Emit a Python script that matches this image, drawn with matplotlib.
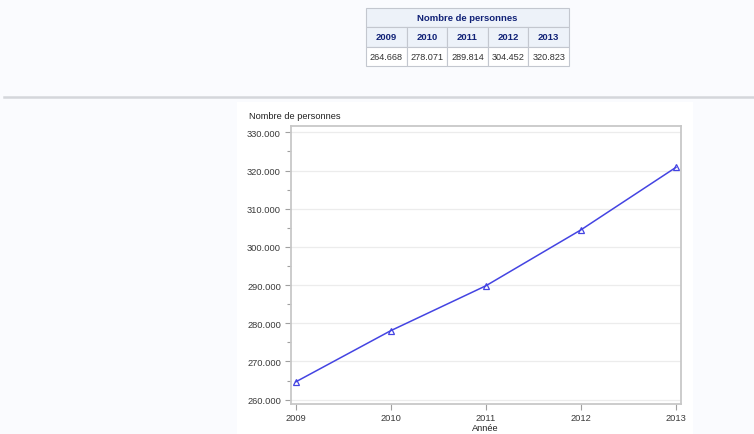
import matplotlib
matplotlib.use("Agg")
import matplotlib.pyplot as plt
from matplotlib.patches import Rectangle
from matplotlib.lines import Line2D
from matplotlib.ticker import FuncFormatter, MultipleLocator

plt.rcParams['font.family'] = ['Liberation Sans', 'DejaVu Sans']

years = [2009, 2010, 2011, 2012, 2013]
persons = [264668, 278071, 289814, 304452, 320823]
table_title = "Nombre de personnes"
y_label = "Nombre de personnes"
x_label = "Année"

W, H = 754, 435
fig = plt.figure(figsize=(W / 100, H / 100), dpi=100)
fig.patch.set_facecolor('#fafbfe')

def fx(px):
    return px / W

def fy(py):
    return 1 - py / H

# white panel behind the graph
bg = fig.add_axes([fx(237), 0, fx(693) - fx(237), fy(103)], zorder=0)
bg.set_facecolor('white')
bg.set_xticks([]); bg.set_yticks([])
for s in bg.spines.values():
    s.set_visible(False)

# separator line
fig.lines.append(Line2D([fx(4), fx(754)], [fy(98), fy(98)], transform=fig.transFigure,
                        color='#d4d6db', linewidth=1.8, zorder=1))

def fmt(v):
    return f"{int(round(v)):,}".replace(",", ".")

# ---------- table (drawn cell by cell) ----------
ncol = len(years)
tax = fig.add_axes([fx(366), fy(67), fx(569) - fx(366), fy(9) - fy(67)], zorder=2)
tax.set_xlim(0, ncol)
tax.set_ylim(3, 0)
tax.axis('off')
edge = '#c3c7cf'
head_bg = '#edf2f9'
head_fg = '#112277'
# title row
tax.add_patch(Rectangle((0, 0), ncol, 1, facecolor=head_bg, edgecolor=edge, linewidth=0.8,
                        clip_on=False))
tax.text(ncol / 2, 0.5, table_title, ha='center', va='center', fontsize=6.8,
         fontweight='bold', color=head_fg)
for i, (yr, v) in enumerate(zip(years, persons)):
    tax.add_patch(Rectangle((i, 1), 1, 1, facecolor=head_bg, edgecolor=edge, linewidth=0.8,
                            clip_on=False))
    tax.text(i + 0.5, 1.5, str(yr), ha='center', va='center', fontsize=6.8,
             fontweight='bold', color=head_fg)
    tax.add_patch(Rectangle((i, 2), 1, 1, facecolor='white', edgecolor=edge, linewidth=0.8,
                            clip_on=False))
    tax.text(i + 0.5, 2.5, fmt(v), ha='center', va='center', fontsize=6.6, color='#333333')

# ---------- graph ----------
ax = fig.add_axes([fx(290.7), fy(404.7), fx(680.7) - fx(290.7), fy(127) - fy(404.7)], zorder=3)
ax.set_facecolor('white')
ax.plot(years, persons, color='#4444e2', linewidth=1.1, marker='^',
        markersize=5, markerfacecolor='none', markeredgecolor='#4444e2',
        markeredgewidth=0.9, zorder=3)
ax.set_xlim(2008.947, 2013.05)
ax.set_ylim(258950, 331650)
ax.set_xticks(years)
ax.set_xticklabels([str(y) for y in years])
ax.yaxis.set_major_locator(MultipleLocator(10000))
ax.yaxis.set_minor_locator(MultipleLocator(5000))
ax.yaxis.set_major_formatter(FuncFormatter(lambda v, p: fmt(v)))
ax.grid(axis='y', which='major', color='#ececec', linewidth=0.9, zorder=0)
ax.set_axisbelow(True)
for s in ax.spines.values():
    s.set_color('#c8c8c8')
    s.set_linewidth(1.3)
ax.tick_params(axis='both', which='both', direction='out', color='#a0a0a0',
               labelsize=6.7, labelcolor='#3a3a3a')
ax.tick_params(axis='both', which='major', length=4, width=0.8, pad=3)
ax.tick_params(axis='y', which='minor', length=3, width=0.8)

fig.text(fx(249), fy(116.5), y_label, ha='left', va='center', fontsize=6.7, color='#222222',
         zorder=4)
fig.text(fx(485), fy(429), x_label, ha='center', va='center', fontsize=6.7, color='#222222',
         zorder=4)

fig.savefig("out.png", dpi=100, facecolor=fig.get_facecolor())
